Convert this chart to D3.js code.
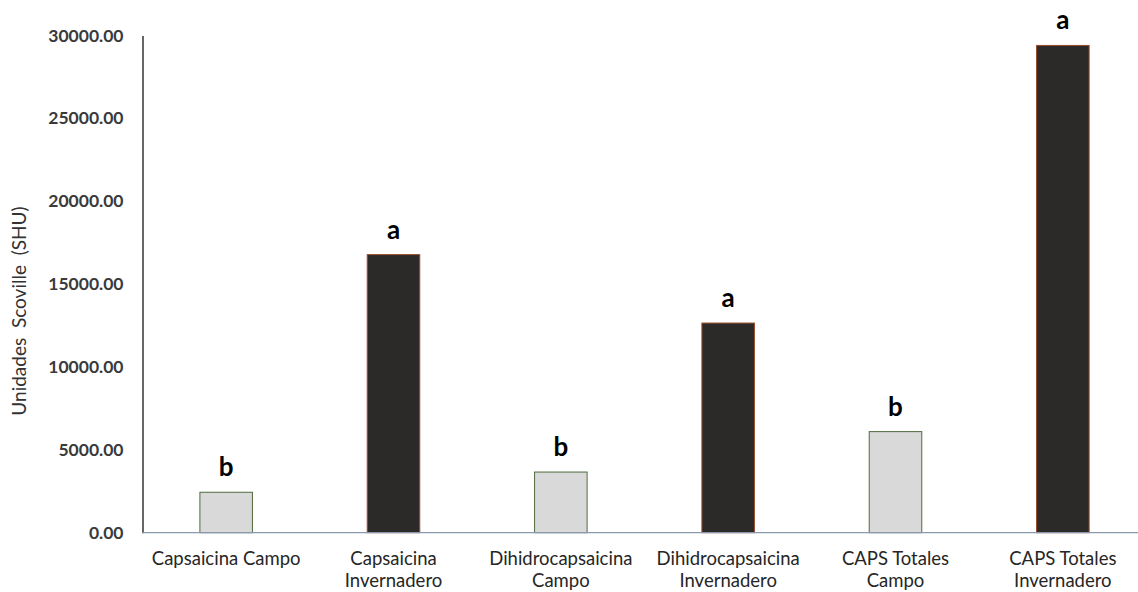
<!DOCTYPE html>
<html>
<head>
<meta charset="utf-8">
<script src="https://d3js.org/d3.v7.min.js"></script>
<style>
  html, body { margin: 0; padding: 0; background: #fff; }
  svg { display: block; font-family: Lato, "Open Sans", sans-serif; }
</style>
</head>
<body>
<svg id="chart" width="1138" height="592"></svg>
<script>
// Pungency by capsaicinoid and growing condition
const categories = [
  ["Capsaicina Campo"],
  ["Capsaicina", "Invernadero"],
  ["Dihidrocapsaicina", "Campo"],
  ["Dihidrocapsaicina", "Invernadero"],
  ["CAPS Totales", "Campo"],
  ["CAPS Totales", "Invernadero"]
];
const values = [2440, 16780, 3660, 12650, 6100, 29400];
const groups = ["campo", "invernadero", "campo", "invernadero", "campo", "invernadero"];
const letters = ["b", "a", "b", "a", "b", "a"];
const yTicks = [0, 5000, 10000, 15000, 20000, 25000, 30000];
const yTitle = "Unidades  Scoville  (SHU)";

const svg = d3.select("#chart");
const plotLeft = 142.5, plotRight = 1146.5, plotTop = 35.5, plotBottom = 532.7;

const keys = categories.map((c, i) => i);
const x = d3.scaleBand().domain(keys).range([plotLeft, plotRight]).padding(0);
const y = d3.scaleLinear().domain([0, 30000]).range([plotBottom, plotTop]);
const barW = x.bandwidth() * 0.314;

const fill = { campo: "#d9d9d9", invernadero: "#2c2a28" };
const stroke = { campo: "#4f6b3c", invernadero: "#9a4a2a" };

// bars
svg.append("g").selectAll("rect")
  .data(values)
  .join("rect")
  .attr("x", (d, i) => x(i) + x.bandwidth() / 2 - barW / 2)
  .attr("y", d => y(d))
  .attr("width", barW)
  .attr("height", d => y(0) - y(d))
  .attr("fill", (d, i) => fill[groups[i]])
  .attr("stroke", (d, i) => stroke[groups[i]])
  .attr("stroke-width", 1);

// significance letters
svg.append("g").selectAll("text")
  .data(values)
  .join("text")
  .attr("x", (d, i) => x(i) + x.bandwidth() / 2)
  .attr("y", d => y(d) - 16)
  .attr("text-anchor", "middle")
  .attr("font-size", 26)
  .attr("font-weight", "bold")
  .attr("fill", "#000")
  .text((d, i) => letters[i]);

// y axis
const yAxis = svg.append("g")
  .attr("transform", `translate(${plotLeft},0)`)
  .call(d3.axisLeft(y).tickValues(yTicks).tickSize(0).tickPadding(19)
    .tickFormat(d => d3.format(".2f")(d)));
yAxis.select(".domain").attr("stroke", "#000").attr("stroke-width", 1.2);
yAxis.selectAll("text")
  .attr("font-size", 17.5)
  .attr("font-weight", "bold")
  .attr("fill", "#3a3a3a")
  .attr("font-family", "Lato, sans-serif");

// x baseline
svg.append("line")
  .attr("x1", plotLeft).attr("x2", 1138)
  .attr("y1", y(0)).attr("y2", y(0))
  .attr("stroke", "#8a9ab0").attr("stroke-width", 1.2);

// category labels
const xl = svg.append("g").selectAll("text")
  .data(categories)
  .join("text")
  .attr("text-anchor", "middle")
  .attr("font-size", 18.5)
  .attr("fill", "#262626")
  .attr("transform", (d, i) => `translate(${x(i) + x.bandwidth() / 2},${plotBottom + 32})`);
xl.selectAll("tspan")
  .data(d => d)
  .join("tspan")
  .attr("x", 0)
  .attr("dy", (d, j) => j === 0 ? 0 : 22)
  .text(d => d);

// y title
svg.append("text")
  .attr("transform", "translate(26,311) rotate(-90)")
  .attr("text-anchor", "middle")
  .attr("font-size", 19)
  .attr("fill", "#333")
  .attr("xml:space", "preserve")
  .style("white-space", "pre")
  .text(yTitle);
</script>
</body>
</html>
